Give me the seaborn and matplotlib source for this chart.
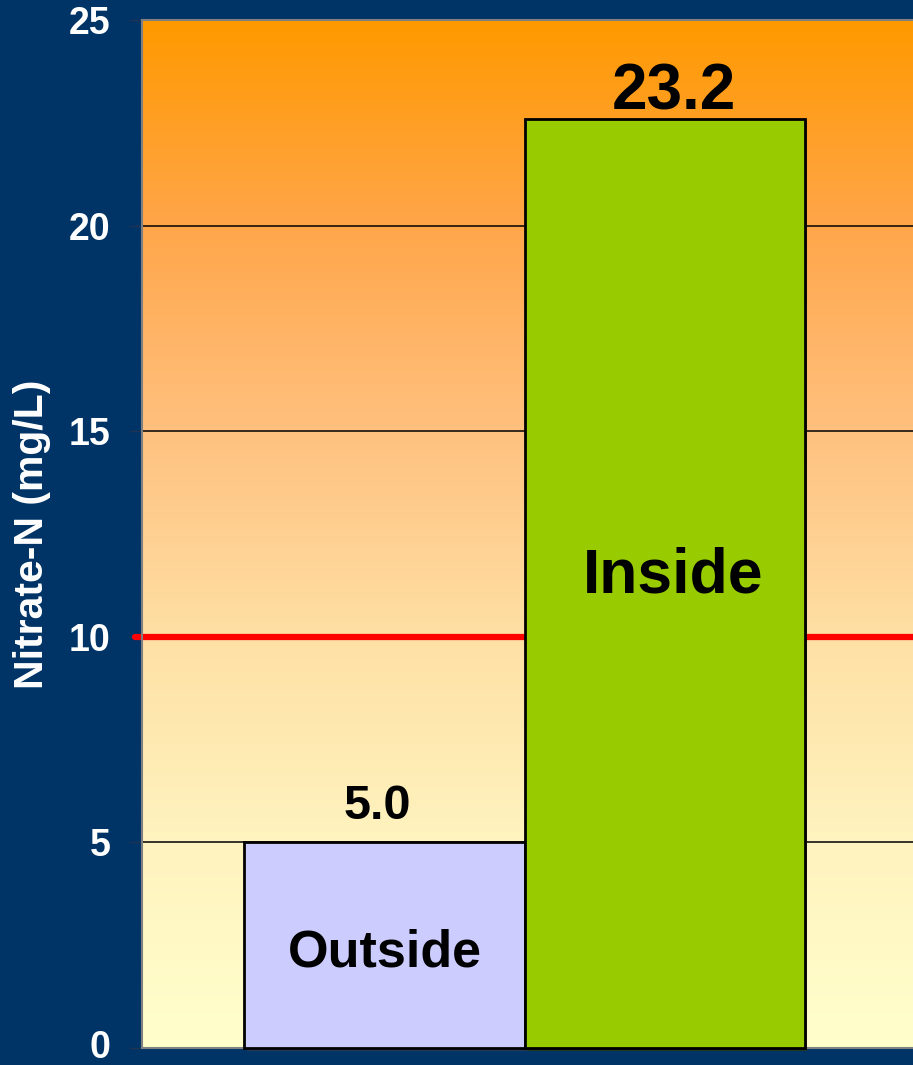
import numpy as np
import pandas as pd
import matplotlib
matplotlib.use("Agg")
from matplotlib import pyplot as plt
from matplotlib import patheffects
from matplotlib.colors import LinearSegmentedColormap
import seaborn as sns

# data
sites = ["Outside", "Inside"]
nitrate = [5.0, 22.6]          # bar heights as drawn
value_labels = ["5.0", "23.2"]  # printed values
bar_colors = ["#CCCCFF", "#99CC00"]
limit = 10                      # drinking water standard
yticks = [0, 5, 10, 15, 20, 25]

navy = "#003366"

sns.set_theme(style="white")
plt.rcParams['font.family'] = ['Liberation Sans', 'DejaVu Sans']
plt.rcParams['font.weight'] = 'bold'

fig = plt.figure(figsize=(9.13, 10.65), dpi=100, facecolor=navy)
ax = fig.add_axes([142 / 913, 17 / 1065, 818 / 913, 1028 / 1065])

# gradient background (orange at top, pale yellow at bottom)
grad = LinearSegmentedColormap.from_list(
    "bg", [(0.0, "#FFFFCC"), (0.2, "#FFF3BF"), (0.4, "#FEE0A4"),
           (0.6, "#FFC17F"), (0.8, "#FFA64A"), (1.0, "#FF9900")])
ax.imshow(np.linspace(0, 1, 256).reshape(-1, 1), cmap=grad, origin="lower",
          extent=[0, 1, 0, 1], transform=ax.transAxes, aspect="auto", zorder=0)

df = pd.DataFrame({"site": sites, "nitrate": nitrate})
sns.barplot(data=df, x="site", y="nitrate", hue="site", palette=bar_colors,
            saturation=1, width=1.0, edgecolor="black", linewidth=2,
            legend=False, zorder=3, ax=ax)
for p in ax.patches:
    p.set_clip_on(False)
    p.set_path_effects([patheffects.SimplePatchShadow(offset=(2, -2), alpha=0.7),
                        patheffects.Normal()])

ax.set_xlim(-0.866, 2.055)
ax.set_ylim(0, 25)
ax.set_yticks(yticks)
ax.set_xticks([])
ax.set_xlabel("")

ax.yaxis.grid(True, color="black", linewidth=1.1, zorder=1)
ax.set_axisbelow(True)
ax.axhline(limit, xmin=-0.009, xmax=1, color="#FF0000", linewidth=4.5,
           clip_on=False, zorder=2)

ax.tick_params(axis="y", direction="out", length=9.5, width=1, color="#1F3355",
               labelcolor="white", labelsize=27, pad=13, left=True)
for lab in ax.get_yticklabels():
    lab.set_fontweight("bold")
    if lab.get_text() == "0":
        lab.set_va("center")  # keep the bottom label inside the picture

ax.set_ylabel("Nitrate-N (mg/L)", color="white", fontsize=29.5, fontweight="bold")
ax.yaxis.set_label_coords(-0.111, 0.5)

for s in ax.spines.values():
    s.set_color("#808080")
    s.set_linewidth(1.5)

# value labels above bars and names inside bars
top_offsets = [(-5, 10), (7, -3)]
name_sizes = [37.5, 45]
for i, (h, txt, name) in enumerate(zip(nitrate, value_labels, sites)):
    ax.annotate(txt, (i, h), xytext=top_offsets[i], textcoords="offset points",
                ha="center", va="bottom", fontsize=[35, 46][i],
                fontweight="bold", color="black", zorder=5)
    ax.annotate(name, (i, h / 2), xytext=[(0, -5.5), (6, 5.5)][i],
                textcoords="offset points", ha="center", va="center",
                fontsize=name_sizes[i], fontweight="bold", color="black",
                zorder=5)

fig.savefig("out.png", dpi=100, facecolor=navy)
